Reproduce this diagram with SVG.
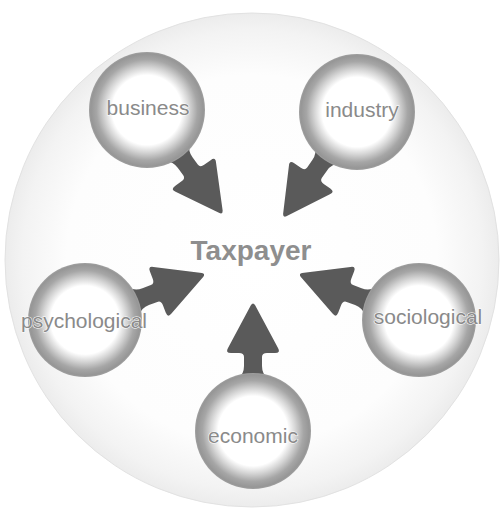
<svg xmlns="http://www.w3.org/2000/svg" width="501" height="509" viewBox="0 0 501 509">
  <defs>
    <radialGradient id="halo" cx="0.5" cy="0.5" r="0.5">
      <stop offset="0" stop-color="#ffffff"/>
      <stop offset="0.75" stop-color="#fdfdfd"/>
      <stop offset="0.93" stop-color="#f3f3f3"/>
      <stop offset="1" stop-color="#ececec"/>
    </radialGradient>
    <radialGradient id="ring" cx="0.5" cy="0.5" r="0.5">
      <stop offset="0" stop-color="#ffffff"/>
      <stop offset="0.6" stop-color="#ffffff"/>
      <stop offset="0.73" stop-color="#d6d6d6"/>
      <stop offset="0.87" stop-color="#a6a6a6"/>
      <stop offset="0.97" stop-color="#969696"/>
      <stop offset="1" stop-color="#a0a0a0"/>
    </radialGradient>
    <!-- arrow pointing up from a node centre at the origin -->
    <path id="arrow" d="M -15 -52 Q -9 -57 -9 -65 L -9 -74 Q -9 -78 -14 -78 L -22 -78 Q -28 -78 -25 -83 L -2 -126 Q 0 -129 2 -126 L 25 -83 Q 28 -78 22 -78 L 14 -78 Q 9 -78 9 -74 L 9 -65 Q 9 -57 15 -52 Z"/>
  </defs>
  <style>
    .arrow { fill: #5a5a5a; }
    .ring { fill: url(#ring); }
    .label { font-family: "Liberation Sans", Arial, sans-serif; font-size: 21px; fill: #8a8a8a; text-anchor: middle; stroke: #ffffff; stroke-width: 1px; paint-order: stroke; }
    .hub { font-family: "Liberation Sans", Arial, sans-serif; font-size: 28px; font-weight: bold; fill: #8e8e8e; text-anchor: middle; }
  </style>

  <circle cx="252" cy="260" r="247" fill="url(#halo)" stroke="#e2e2e2" stroke-width="1"/>

  <g id="connectors">
    <use href="#arrow" class="arrow" transform="translate(147 110) rotate(144)"/>
    <use href="#arrow" class="arrow" transform="translate(357 112) rotate(-145)"/>
    <use href="#arrow" class="arrow" transform="translate(85 320) rotate(69)"/>
    <use href="#arrow" class="arrow" transform="translate(419 320) rotate(-69)"/>
    <use href="#arrow" class="arrow" transform="translate(253 431)"/>
  </g>

  <g id="taxpayer">
    <text class="hub" x="251" y="260">Taxpayer</text>
  </g>

  <g id="business">
    <circle class="ring" cx="147" cy="110" r="58"/>
    <text class="label" x="148" y="115">business</text>
  </g>

  <g id="industry">
    <circle class="ring" cx="357" cy="112" r="58"/>
    <text class="label" x="362" y="117">industry</text>
  </g>

  <g id="psychological">
    <circle class="ring" cx="85" cy="320" r="57"/>
    <text class="label" x="84" y="328">psychological</text>
  </g>

  <g id="sociological">
    <circle class="ring" cx="419" cy="320" r="57"/>
    <text class="label" x="428" y="324">sociological</text>
  </g>

  <g id="economic">
    <circle class="ring" cx="253" cy="431" r="58"/>
    <text class="label" x="253" y="443">economic</text>
  </g>
</svg>
